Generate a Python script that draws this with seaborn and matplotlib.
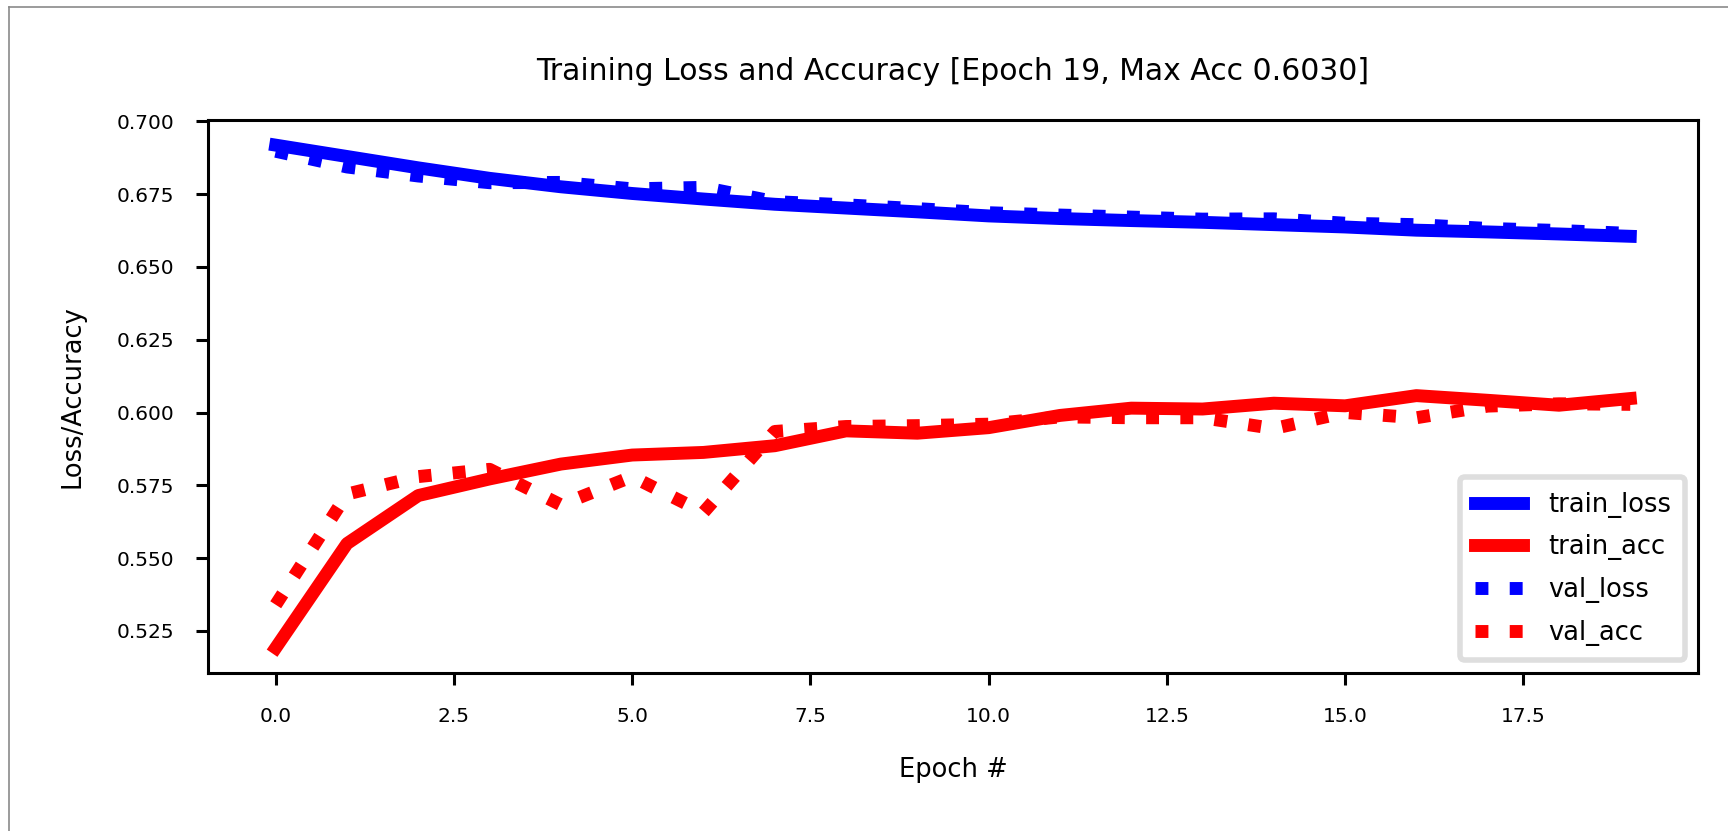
import matplotlib
matplotlib.use("Agg")
import matplotlib.pyplot as plt
from matplotlib.lines import Line2D
import seaborn as sns
import pandas as pd

# Per-epoch training history
epochs = list(range(20))
train_loss = [0.6918, 0.6879, 0.6840, 0.6804, 0.6775, 0.6752, 0.6733, 0.6715,
              0.6702, 0.6689, 0.6675, 0.6666, 0.6659, 0.6653, 0.6645, 0.6637,
              0.6626, 0.6620, 0.6613, 0.6605]
val_loss = [0.6897, 0.6843, 0.6812, 0.6789, 0.6790, 0.6768, 0.6773, 0.6724,
            0.6713, 0.6700, 0.6686, 0.6678, 0.6671, 0.6664, 0.6665, 0.6650,
            0.6645, 0.6632, 0.6625, 0.6615]
train_acc = [0.5192, 0.5550, 0.5715, 0.5772, 0.5823, 0.5854, 0.5863, 0.5886,
             0.5937, 0.5929, 0.5948, 0.5990, 0.6015, 0.6012, 0.6032, 0.6023,
             0.6058, 0.6042, 0.6025, 0.6048]
val_acc = [0.5340, 0.5720, 0.5780, 0.5805, 0.5683, 0.5780, 0.5657, 0.5935,
           0.5952, 0.5955, 0.5960, 0.5985, 0.5982, 0.5982, 0.5945, 0.6000,
           0.5982, 0.6022, 0.6030, 0.6028]

series_names = ["train_loss", "train_acc", "val_loss", "val_acc"]
series_values = [train_loss, train_acc, val_loss, val_acc]
series_colors = ["#0000ff", "#ff0000", "#0000ff", "#ff0000"]
series_styles = ["-", "-", ":", ":"]

history = pd.DataFrame({"epoch": epochs, **dict(zip(series_names, series_values))})

DPI = 100
fig = plt.figure(figsize=(1728 / DPI, 831 / DPI), dpi=DPI)
ax = fig.add_axes([208 / 1728, 1 - 673 / 831, (1698 - 208) / 1728, (673 - 120) / 831])

for name, color, style in zip(series_names, series_colors, series_styles):
    sns.lineplot(data=history, x="epoch", y=name, ax=ax, color=color,
                 linestyle=style, linewidth=9.3, label=name,
                 solid_capstyle="projecting", dash_capstyle="butt")

title = f"Training Loss and Accuracy [Epoch {epochs[-1]}, Max Acc {max(val_acc):.4f}]"
ax.set_title(title, fontsize=21.5, pad=29)
ax.set_xlabel("Epoch #", fontsize=18.5, labelpad=22)
ax.set_ylabel("Loss/Accuracy", fontsize=18.5, labelpad=22)

for side in ax.spines.values():
    side.set_linewidth(2.2)
    side.set_color("black")
ax.tick_params(axis="both", labelsize=14.5, length=8.5, width=2.2, pad=16, direction="out")

leg = ax.legend(loc="lower right", fontsize=18.5, frameon=True, fancybox=True,
                borderpad=0.56, labelspacing=0.65, handlelength=1.9, handletextpad=0.95)
leg.get_frame().set_edgecolor("0.84")
leg.get_frame().set_linewidth(4.0)

# thin grey frame along the top and left edges of the canvas
fig.add_artist(Line2D([9 / 1728, 9 / 1728], [0, 1 - 7 / 831], transform=fig.transFigure,
                      color="#8a8a8a", linewidth=1.2))
fig.add_artist(Line2D([9 / 1728, 1], [1 - 7 / 831, 1 - 7 / 831], transform=fig.transFigure,
                      color="#8a8a8a", linewidth=1.2))

fig.savefig("out.png", dpi=DPI, facecolor="white")
